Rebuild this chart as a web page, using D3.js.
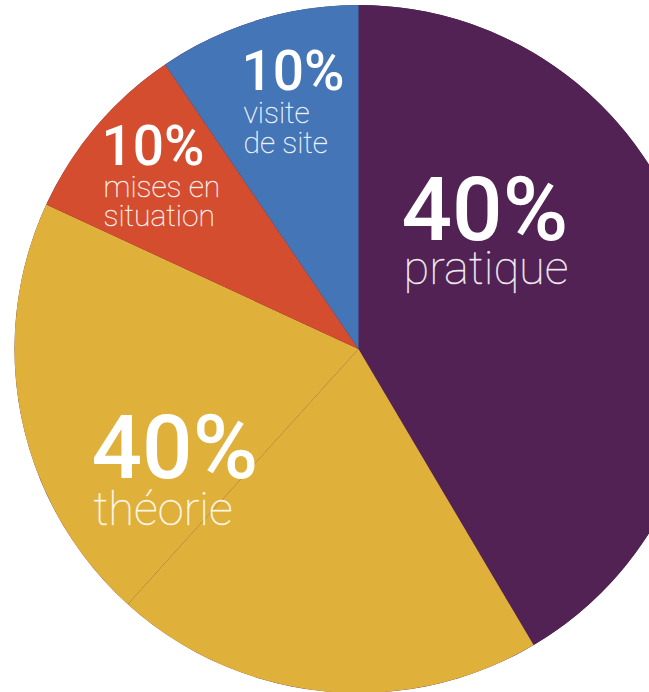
<!DOCTYPE html>
<html lang="fr">
<head>
  <meta charset="utf-8">
  <title>Répartition</title>
  <script src="https://d3js.org/d3.v7.min.js"></script>
  <style>
    html, body { margin: 0; padding: 0; background: #fff; }
    #chart text { font-family: Roboto, "Open Sans", sans-serif; fill: #fff; }
    #chart .pct { font-weight: 500; }
    #chart .lbl { font-weight: 100; fill-opacity: .9; stroke: #fff; stroke-opacity: .6; stroke-width: .5; }
  </style>
</head>
<body>
  <div id="chart"></div>

  <script>
    "use strict"

    // parts (la théorie est faite de deux tranches)
    const sliceGroups = ["pratique", "théorie", "théorie", "mises en situation", "visite de site"];
    const sliceValues = [41.5, 20.2, 20.2, 8.6, 9.5];

    // textes affichés
    const groups = ["pratique", "théorie", "mises en situation", "visite de site"];
    const pctLabels = ["40%", "40%", "10%", "10%"];
    const labelLines = [["pratique"], ["théorie"], ["mises en", "situation"], ["visite", "de site"]];

    var width = 649, height = 692;
    var cx = 358.5, cy = 349, radius = 344;

    var color = d3.scaleOrdinal()
      .domain(groups)
      .range(["#512253", "#dfb13b", "#d54d2f", "#4475b6"]);

    var svg = d3.select('#chart')
      .append('svg')
        .attr('width', width)
        .attr('height', height);

    var g = svg.append('g')
      .attr('transform', 'translate(' + cx + ',' + cy + ')');

    var pie = d3.pie().sort(null).value(d => d);
    var arc = d3.arc().innerRadius(0).outerRadius(radius);

    // disque de fond : donne le fin liseré sombre entre les tranches
    g.append('circle')
      .attr('r', radius)
      .attr('fill', color("pratique"));

    g.selectAll('path.slice')
      .data(pie(sliceValues))
      .enter()
        .append('path')
          .attr('class', 'slice')
          .attr('d', arc)
          .attr('fill', (d, i) => color(sliceGroups[i]));

    /*
     * étiquettes (placées à la main, relatif au centre)
     */
    var labelPos = [[46, -109], [-264, 129], [-254, -184], [-114, -259]];
    var pctSize = [89, 89, 55, 55];
    var lblSize = [47, 47, 30, 30];
    var lblStep = [44, 47, 32, 33];

    groups.forEach(function (name, i) {
      var lg = g.append('g')
        .attr('transform', 'translate(' + labelPos[i][0] + ',' + labelPos[i][1] + ')');
      lg.append('text')
        .attr('class', 'pct')
        .attr('x', -3)
        .style('font-size', pctSize[i] + 'px')
        .text(pctLabels[i]);
      labelLines[i].forEach(function (line, j) {
        lg.append('text')
          .attr('class', 'lbl')
          .attr('x', -1)
          .attr('y', lblStep[i] * (j + 1) - (j > 0 ? 3 : 0))
          .style('font-size', lblSize[i] + 'px')
          .text(line);
      });
    });
  </script>
</body>
</html>
